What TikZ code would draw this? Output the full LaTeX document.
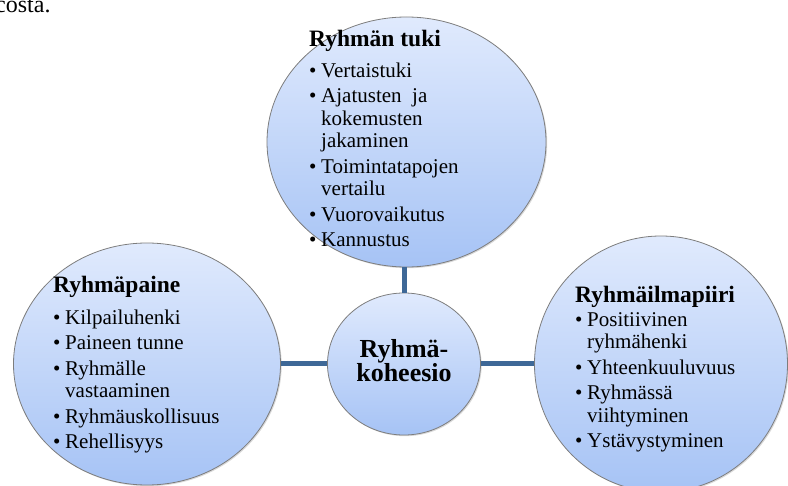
\documentclass[tikz,border=0pt]{standalone}
\usepackage{fontspec}
\setmainfont{Liberation Serif}
\usepackage{xcolor}
\usepackage{tikz}
\usetikzlibrary{shapes.geometric, shadows}

\definecolor{bubbletop}{RGB}{224,234,253}
\definecolor{bubblebottom}{RGB}{166,195,245}
\definecolor{bubbleedge}{RGB}{125,125,125}
\definecolor{linkblue}{RGB}{62,104,151}

% one bullet line of a list inside a bubble
\newcommand{\bitem}[1]{\hangindent=12pt\hangafter=1\noindent\makebox[12pt][l]{\textbullet}#1\par}
\newcommand{\blist}[3]{\parbox[t]{230pt}{\raggedright
    {\fontsize{23.5}{26}\selectfont\bfseries #1\par}\vspace{#2}
    \fontsize{21}{22.5}\selectfont\parskip=3pt #3}}

\begin{document}
\begin{tikzpicture}[x=1pt, y=-1pt,
    bubble/.style={ellipse, draw=bubbleedge, line width=0.8pt, inner sep=0pt,
        top color=bubbletop, bottom color=bubblebottom,
        drop shadow={shadow xshift=1.2pt, shadow yshift=-1.2pt, opacity=0.3}},
    link/.style={draw=linkblue, line width=5pt},
    listtext/.style={anchor=base west, inner sep=0pt, align=left}]
    \clip (0,0) rectangle (788,486);
    \useasboundingbox (0,0) rectangle (788,486);

    \node[anchor=base west, inner sep=0pt, font=\fontsize{24}{28}\selectfont] (prev) at (-5,13) {costa.};

    \node[bubble, minimum width=279pt, minimum height=250pt] (tuki)   at (406.5,142) {};
    \node[bubble, minimum width=267pt, minimum height=242pt] (paine)  at (147,364) {};
    \node[bubble, minimum width=253pt, minimum height=256pt] (ilmapiiri) at (661,364) {};
    \node[bubble, minimum width=153pt, minimum height=142pt] (koheesio) at (404,364)
        {\fontsize{26}{25}\selectfont\bfseries\begin{tabular}{@{}c@{}}Ryhmä-\\[-2pt]koheesio\end{tabular}};

    \path[link] (paine) -- (koheesio);
    \path[link] (koheesio) -- (ilmapiiri);
    \path[link] (koheesio.north) -- (koheesio.north |- tuki.south);

    \node[listtext] (tukitext) at (309,47) {\blist{Ryhmän tuki}{5pt}{%
        \bitem{Vertaistuki}
        \bitem{Ajatusten\ \ ja\newline kokemusten\newline jakaminen}
        \bitem{Toimintatapojen\newline vertailu}
        \bitem{Vuorovaikutus}
        \bitem{Kannustus}}};
    \node[listtext] (painetext) at (53,293) {\blist{Ryhmäpaine}{6pt}{%
        \bitem{Kilpailuhenki}
        \bitem{Paineen tunne}
        \bitem{Ryhmälle\newline vastaaminen}
        \bitem{Ryhmäuskollisuus}
        \bitem{Rehellisyys}}};
    \node[listtext] (ilmapiiritext) at (575,303) {\blist{Ryhmäilmapiiri}{-2pt}{%
        \bitem{Positiivinen\newline ryhmähenki}
        \bitem{Yhteenkuuluvuus}
        \bitem{Ryhmässä\newline viihtyminen}
        \bitem{Ystävystyminen}}};
\end{tikzpicture}
\end{document}
